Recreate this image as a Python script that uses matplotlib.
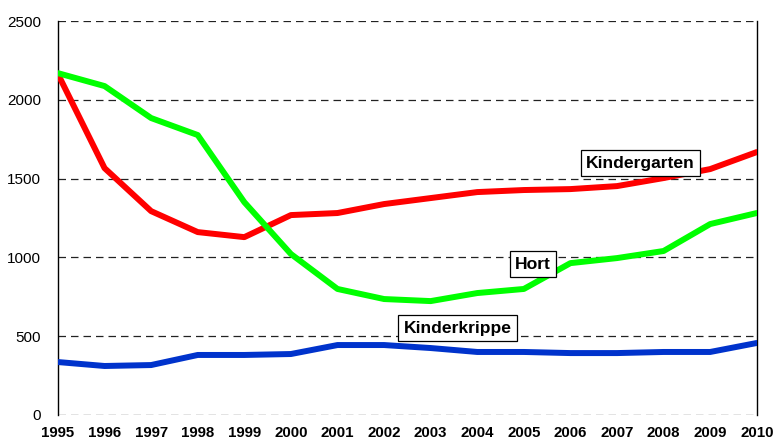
import matplotlib
matplotlib.use("Agg")
import matplotlib.pyplot as plt

years = list(range(1995, 2011))
kindergarten = [2164, 1567, 1294, 1161, 1129, 1269, 1282, 1339, 1377, 1415, 1428, 1434, 1453, 1504, 1561, 1669]
hort = [2170, 2088, 1885, 1777, 1351, 1022, 800, 736, 723, 774, 800, 964, 996, 1041, 1212, 1282]
kinderkrippe = [336, 311, 317, 381, 381, 387, 444, 444, 425, 400, 400, 393, 393, 400, 400, 457]
yticks = [0, 500, 1000, 1500, 2000, 2500]

plt.rcParams['font.family'] = ['Liberation Sans', 'DejaVu Sans']

fig = plt.figure(figsize=(7.73, 4.41), dpi=100)
ax = fig.add_axes([0.075, 0.059, 0.904, 0.893])

for y in yticks:
    ax.axhline(y, color='#222222', lw=0.9, ls=(0, (6, 4)), zorder=1)

ax.plot(years, kinderkrippe, color='#0033cc', lw=4.3, solid_capstyle='round', zorder=3)
ax.plot(years, kindergarten, color='#ff0000', lw=4.3, solid_capstyle='round', zorder=3)
ax.plot(years, hort, color='#00ff00', lw=4.3, solid_capstyle='round', zorder=3)

ax.set_xlim(1995, 2010)
ax.set_ylim(0, 2500)
ax.set_yticks(yticks)
ax.set_xticks(years)
ax.set_xticklabels([str(y) for y in years], fontweight='bold', fontsize=10.8)
ax.set_yticklabels([str(y) for y in yticks], fontsize=11)
ax.tick_params(axis='x', length=0, pad=8)
ax.tick_params(axis='y', length=0, pad=12)
ax.spines['top'].set_visible(False)
ax.spines['bottom'].set_visible(False)
ax.spines['left'].set_linewidth(1)
ax.spines['right'].set_linewidth(1)

bbox = dict(boxstyle='square,pad=0.3', fc='white', ec='black', lw=0.9)
ax.text(2007.5, 1599, 'Kindergarten', ha='center', va='center', fontsize=12.6, fontweight='bold', bbox=bbox, zorder=4)
ax.text(2005.2, 958, 'Hort', ha='center', va='center', fontsize=12.6, fontweight='bold', bbox=bbox, zorder=4)
ax.text(2003.58, 552, 'Kinderkrippe', ha='center', va='center', fontsize=12.6, fontweight='bold', bbox=bbox, zorder=4)

fig.savefig('out.png', dpi=100)
